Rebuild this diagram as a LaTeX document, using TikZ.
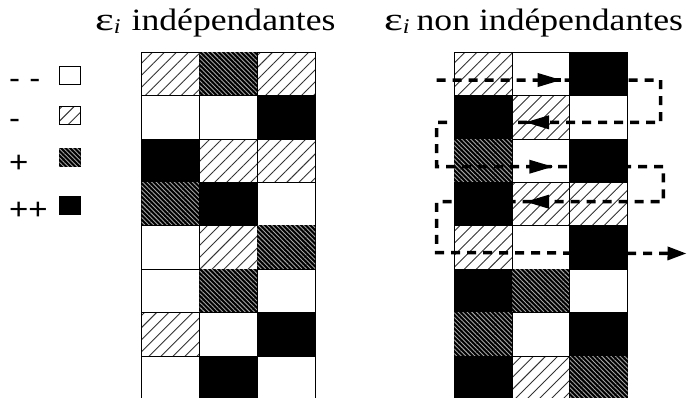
\documentclass[tikz,border=0pt]{standalone}
\usepackage{fontspec}
\setmainfont{Liberation Serif}
\newfontfamily\titlefont[FakeStretch=1.15]{Liberation Serif}
\newfontfamily\legendfont[FakeStretch=1.1]{Liberation Sans}
\usetikzlibrary{arrows.meta, positioning, patterns.meta}

\newcommand\epsi{\scalebox{1.25}[1.05]{ε}\raisebox{-3pt}{\fontsize{21}{21}\selectfont\itshape i}}

\begin{document}
\begin{tikzpicture}[
        x=1pt, y=-1pt,
        cell/.style={rectangle, draw, line width=0.9pt, minimum width=57.8pt, minimum height=43.4pt, inner sep=0pt},
        legbox/.style={cell, minimum width=21.3pt, minimum height=17.6pt},
        vlow/.style={fill=white},
        low/.style={pattern={Lines[angle=45, distance=8.5pt, line width=0.9pt]}, pattern color=black!80},
        high/.style={fill=black, postaction={pattern={Lines[angle=-45, distance=3.2pt, line width=0.9pt]}, pattern color=black!35}},
        vhigh/.style={fill=black},
        heading/.style={font=\titlefont\fontsize{31}{31}\selectfont, inner sep=0pt, anchor=base west},
        legtext/.style={font=\legendfont\fontsize{30}{30}\selectfont, inner sep=0pt, anchor=base west},
        route/.style={line width=3.5pt, dash pattern=on 9pt off 7pt},
        head/.style={line width=3.5pt, -{Triangle[length=24pt, width=13pt]}}
    ]
        \useasboundingbox (0,0) rectangle (687,397);

        % titles
        \node[heading] (tind) at (95,30) {\epsi\hspace{11pt}indépendantes};
        \node[heading] (tdep) at (384,30) {\epsi\hspace{7pt}non indépendantes};

        % legend
        \node[legbox, vlow] (kvlow) at (70,75.5) {};
        \node[legbox, low] (klow) at (70,115.5) {};
        \node[legbox, high] (khigh) at (70,157.5) {};
        \node[legbox, vhigh] (kvhigh) at (70,205.2) {};
        \node[legtext] (tvlow) at (9,88) {- -};
        \node[legtext] (tlow) at (9,128) {-};
        \node[legtext] (thigh) at (9,172) {+};
        \node[legtext] (tvhigh) at (9,219) {++};

        % grids
        \foreach \kind [count=\n from 0] in {low,high,low, vlow,vlow,vhigh, vhigh,low,low, high,vhigh,vlow,
                vlow,low,high, vlow,high,vlow, low,vlow,vhigh, vlow,vhigh,vlow}
            \node[cell, \kind] (L\n) at ({141.7+57.8*(mod(\n,3)+0.5)}, {52.3+43.4*(int(\n/3)+0.5)}) {};
        \foreach \kind [count=\n from 0] in {low,vlow,vhigh, vhigh,low,vlow, high,vlow,vhigh, vhigh,low,low,
                low,vlow,vhigh, vhigh,high,vlow, high,vlow,vhigh, vhigh,low,high}
            \node[cell, \kind] (R\n) at ({454.3+57.8*(mod(\n,3)+0.5)}, {52.3+43.4*(int(\n/3)+0.5)}) {};

        % reading order
        \coordinate (r0) at (436.7,80);
        \coordinate (r1) at (660.7,80);
        \coordinate (r2) at (660.7,122.3);
        \coordinate (r3) at (436.7,122.3);
        \coordinate (r4) at (436.7,166.7);
        \coordinate (r5) at (663.3,166.7);
        \coordinate (r6) at (663.3,201.7);
        \coordinate (r7) at (436.7,201.7);
        \coordinate (r8) at (436.7,252.5);
        \coordinate (r9) at (686.5,253.5);
        \coordinate (h1) at (561.7,80);
        \coordinate (h2) at (525,122.3);
        \coordinate (h3) at (553.3,166.7);
        \coordinate (h4) at (525,201.7);

        \draw[route, -{Triangle[length=19pt, width=13pt]}] (r0) -- (r1) -- (r2) -- (r3) -- (r4) -- (r5) -- (r6) -- (r7) -- (r8) -- (r9);
        \draw[head] ([xshift=-1pt]h1) -- (h1);
        \draw[head] ([xshift=1pt]h2) -- (h2);
        \draw[head] ([xshift=-1pt]h3) -- (h3);
        \draw[head] ([xshift=1pt]h4) -- (h4);
    \end{tikzpicture}
\end{document}
